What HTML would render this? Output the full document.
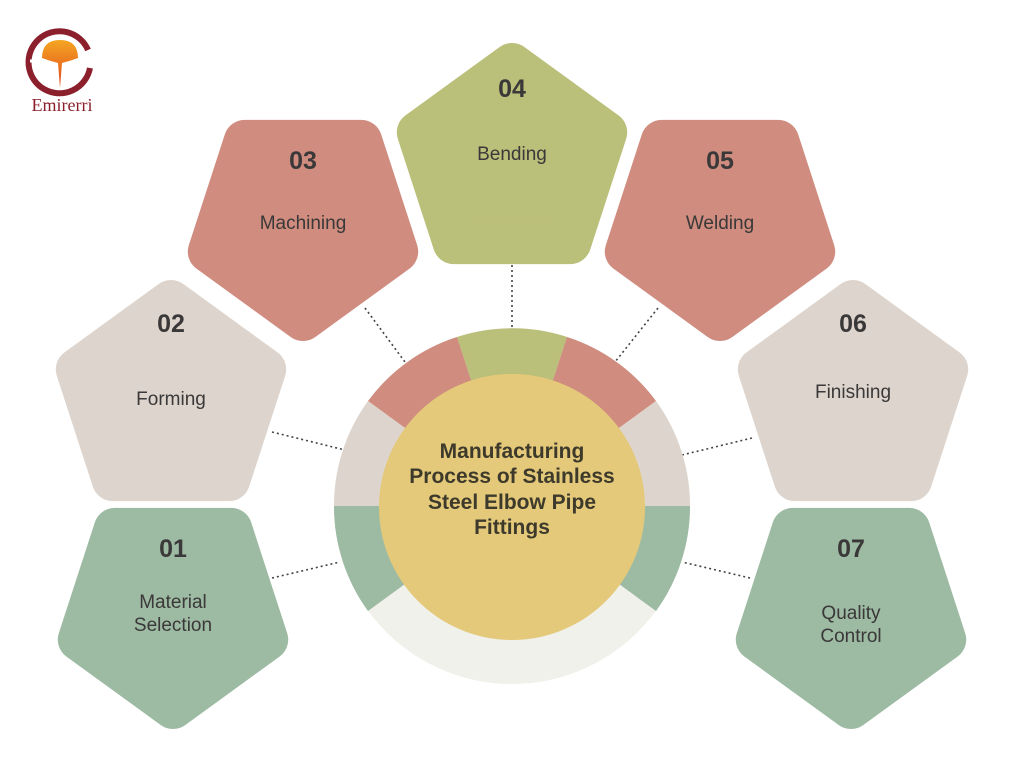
<!DOCTYPE html>
<html><head><meta charset="utf-8"><style>
html,body{margin:0;padding:0;background:#fff;}
svg{display:block;}
.n{font-family:"Liberation Sans",sans-serif;font-weight:bold;font-size:25px;fill:#3a3838;text-anchor:middle;}
.t{font-family:"Liberation Sans",sans-serif;font-size:19px;fill:#3a3838;text-anchor:middle;}
.c{font-family:"Liberation Sans",sans-serif;font-weight:bold;font-size:21px;fill:#3d3a2c;text-anchor:middle;}
</style></head><body>
<svg width="1024" height="768" viewBox="0 0 1024 768" xmlns="http://www.w3.org/2000/svg">
<defs>
<linearGradient id="og" x1="0" y1="0" x2="0" y2="1"><stop offset="0" stop-color="#f5a623"/><stop offset="1" stop-color="#e0451b"/></linearGradient>
</defs>
<!-- logo -->
<path d="M90 68 A31 31 0 1 1 88 50" fill="none" stroke="#8b1f2b" stroke-width="6"/>
<line x1="30" y1="61" x2="88" y2="61" stroke="#fff" stroke-width="3"/>
<path d="M42 58 Q42 40 60 40 Q78 40 78 58 Q70 61 62 63 L60 88 L58 63 Q50 61 42 58Z" fill="url(#og)"/>
<text x="62" y="111" font-family="Liberation Serif,serif" font-size="18" fill="#8b1f2b" text-anchor="middle">Emirerri</text>

<!-- connectors -->
<g stroke="#444" stroke-width="1.6" stroke-dasharray="2 3" fill="none">
<line x1="512" y1="265" x2="512" y2="328"/>
<line x1="365" y1="308" x2="405" y2="362"/>
<line x1="658" y1="308" x2="615" y2="362"/>
<line x1="272" y1="432" x2="345" y2="450"/>
<line x1="752" y1="438" x2="682" y2="455"/>
<line x1="272" y1="578" x2="340" y2="562"/>
<line x1="750" y1="578" x2="682" y2="562"/>
</g>

<!-- ring -->
<g transform="translate(512,506)">
<circle r="178" fill="#f0f1ea"/>
<path d="M0 0 L-55 -169 A178 178 0 0 1 55 -169Z" fill="#babf7a"/>
<path d="M0 0 L55 -169 A178 178 0 0 1 144 -105Z" fill="#cf8c7f"/>
<path d="M0 0 L-55 -169 A178 178 0 0 0 -144 -105Z" fill="#cf8c7f"/>
<path d="M0 0 L144 -105 A178 178 0 0 1 178 0Z" fill="#ddd5cd"/>
<path d="M0 0 L-144 -105 A178 178 0 0 0 -178 0Z" fill="#ddd5cd"/>
<path d="M0 0 L178 0 A178 178 0 0 1 144 105Z" fill="#9dbaa3"/>
<path d="M0 0 L-178 0 A178 178 0 0 0 -144 105Z" fill="#9dbaa3"/>
<circle cx="0" cy="1" r="133" fill="#e4c97a"/>
</g>
<text class="c" x="512" y="458">Manufacturing</text>
<text class="c" x="512" y="483">Process of Stainless</text>
<text class="c" x="512" y="509">Steel Elbow Pipe</text>
<text class="c" x="512" y="534">Fittings</text>

<!-- pentagons: R'=99 with stroke 42 round -->
<g stroke-width="42" stroke-linejoin="round">
<polygon transform="translate(512,163)" points="0,-99 94.2,-30.6 58.2,80.1 -58.2,80.1 -94.2,-30.6" fill="#babf7a" stroke="#babf7a"/>
<polygon transform="translate(303,221)" points="0,99 94.2,30.6 58.2,-80.1 -58.2,-80.1 -94.2,30.6" fill="#cf8c7f" stroke="#cf8c7f"/>
<polygon transform="translate(720,221)" points="0,99 94.2,30.6 58.2,-80.1 -58.2,-80.1 -94.2,30.6" fill="#cf8c7f" stroke="#cf8c7f"/>
<polygon transform="translate(171,400)" points="0,-99 94.2,-30.6 58.2,80.1 -58.2,80.1 -94.2,-30.6" fill="#ddd5cd" stroke="#ddd5cd"/>
<polygon transform="translate(853,400)" points="0,-99 94.2,-30.6 58.2,80.1 -58.2,80.1 -94.2,-30.6" fill="#ddd5cd" stroke="#ddd5cd"/>
<polygon transform="translate(173,609)" points="0,99 94.2,30.6 58.2,-80.1 -58.2,-80.1 -94.2,30.6" fill="#9dbaa3" stroke="#9dbaa3"/>
<polygon transform="translate(851,609)" points="0,99 94.2,30.6 58.2,-80.1 -58.2,-80.1 -94.2,30.6" fill="#9dbaa3" stroke="#9dbaa3"/>
</g>

<text class="n" x="512" y="97">04</text><text class="t" x="512" y="160">Bending</text>
<text class="n" x="303" y="169">03</text><text class="t" x="303" y="229">Machining</text>
<text class="n" x="720" y="169">05</text><text class="t" x="720" y="229">Welding</text>
<text class="n" x="171" y="332">02</text><text class="t" x="171" y="405">Forming</text>
<text class="n" x="853" y="332">06</text><text class="t" x="853" y="398">Finishing</text>
<text class="n" x="173" y="557">01</text><text class="t" x="173" y="608">Material</text><text class="t" x="173" y="631">Selection</text>
<text class="n" x="851" y="557">07</text><text class="t" x="851" y="619">Quality</text><text class="t" x="851" y="642">Control</text>
</svg>
</body></html>
